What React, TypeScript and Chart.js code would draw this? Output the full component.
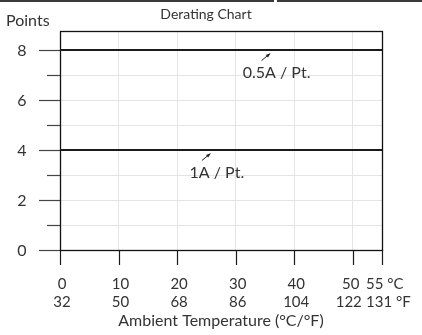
import React, { useEffect, useRef } from "react";
import { Chart, registerables } from "chart.js";

Chart.register(...registerables);

// ---- data ----
const celsiusTicks = [0, 10, 20, 30, 40, 50, 55];
const fahrenheitTicks = [32, 50, 68, 86, 104, 122, 131];
const tempMin = 0;
const tempMax = 55;
const pointsMin = 0;
const pointsMax = 8.76;
const yTickValues = [0, 1, 2, 3, 4, 5, 6, 7, 8];
const yLabelValues = [0, 2, 4, 6, 8];
const seriesNames = ["0.5A / Pt.", "1A / Pt."];
const seriesX = [0, 55];
const series05A = [8, 8];
const series1A = [4, 4];
const labelCenterX = [37.0, 26.8];
const titleText = "Derating Chart";
const yAxisTitle = "Points";
const xAxisTitle = "Ambient Temperature (°C/°F)";
const unitC = "°C";
const unitF = "°F";

const FONT = "Lato, 'Open Sans', sans-serif";
const TEXT = "#333333";
const LINE = "#1a1a1a";

const decorPlugin = {
  id: "decor",
  beforeDatasetsDraw(chart: any) {
    const { ctx, chartArea: a } = chart;
    ctx.save();
    ctx.strokeStyle = "#111";
    ctx.lineWidth = 1.3;
    const l = Math.round(a.left) + 0.5;
    const t = Math.round(a.top) + 0.5;
    const r = Math.round(a.right) + 0.5;
    const b = Math.round(a.bottom) + 0.5;
    ctx.strokeRect(l, t, r - l, b - t);
    ctx.restore();
  },
  afterDraw(chart: any) {
    const { ctx, chartArea: a, scales } = chart;
    const xs = scales.x;
    const ys = scales.y;
    ctx.save();
    // top frame line of the source image
    ctx.fillStyle = "#3a3a3a";
    ctx.fillRect(0, 0, 274, 2);
    ctx.fillRect(277, 0, 422 - 277, 2);

    // y tick marks: long at labelled values, short in between
    ctx.strokeStyle = "#444";
    ctx.lineWidth = 1.2;
    yTickValues.forEach((v) => {
      const y = Math.round(ys.getPixelForValue(v)) + 0.5;
      const long = yLabelValues.includes(v);
      ctx.beginPath();
      ctx.moveTo(a.left - (long ? 21 : 13), y);
      ctx.lineTo(a.left, y);
      ctx.stroke();
    });
    // y labels
    ctx.fillStyle = TEXT;
    ctx.font = `16px ${FONT}`;
    ctx.textAlign = "center";
    ctx.textBaseline = "middle";
    yLabelValues.forEach((v) => {
      ctx.fillText(String(v), a.left - 38, ys.getPixelForValue(v) + 1);
    });
    // x tick marks
    ctx.strokeStyle = LINE;
    celsiusTicks.forEach((v) => {
      const x = Math.round(xs.getPixelForValue(v)) + 0.5;
      ctx.beginPath();
      ctx.moveTo(x, a.bottom);
      ctx.lineTo(x, a.bottom + 15);
      ctx.stroke();
    });
    // x labels (°C row and °F row)
    ctx.font = `15px ${FONT}`;
    celsiusTicks.forEach((v, i) => {
      const x = xs.getPixelForValue(v);
      const last = i === celsiusTicks.length - 1;
      if (last) {
        ctx.textAlign = "left";
        ctx.fillText(`${v} ${unitC}`, x - 16, a.bottom + 34);
        ctx.fillText(`${fahrenheitTicks[i]} ${unitF}`, x - 16, a.bottom + 52);
      } else {
        ctx.textAlign = "center";
        const nextToLast = i === celsiusTicks.length - 2;
        const dx = nextToLast ? -2 : 2;
        ctx.fillText(String(v), x + dx, a.bottom + 34);
        ctx.fillText(String(fahrenheitTicks[i]), x + dx - (nextToLast ? 2 : 0), a.bottom + 52);
      }
    });
    ctx.font = `16px ${FONT}`;
    ctx.textAlign = "center";
    ctx.fillText(xAxisTitle, (a.left + a.right) / 2, a.bottom + 71);
    // y title
    ctx.textAlign = "left";
    ctx.fillText(yAxisTitle, 6, 21);
    // chart title
    ctx.font = `14px ${FONT}`;
    ctx.textAlign = "center";
    ctx.fillText(titleText, 206, 14);

    // series annotations with small arrows
    const ySeries = [series05A[0], series1A[0]];
    ctx.font = `16px ${FONT}`;
    seriesNames.forEach((name, i) => {
      const cx = xs.getPixelForValue(labelCenterX[i]);
      const cy = ys.getPixelForValue(ySeries[i]) + 22.5;
      ctx.fillStyle = TEXT;
      ctx.textAlign = "center";
      ctx.textBaseline = "middle";
      ctx.fillText(name, cx, cy);
      const x0 = cx - 15, y0 = cy - 12;
      const x1 = cx - 7, y1 = cy - 18.5;
      ctx.strokeStyle = "#222";
      ctx.lineWidth = 1;
      ctx.beginPath();
      ctx.moveTo(x0, y0);
      ctx.lineTo(x1, y1);
      ctx.stroke();
      const ang = Math.atan2(y1 - y0, x1 - x0);
      ctx.fillStyle = "#222";
      ctx.beginPath();
      ctx.moveTo(x1 + 1, y1 - 0.8);
      ctx.lineTo(x1 - 4 * Math.cos(ang - 0.45), y1 - 4 * Math.sin(ang - 0.45));
      ctx.lineTo(x1 - 4 * Math.cos(ang + 0.45), y1 - 4 * Math.sin(ang + 0.45));
      ctx.closePath();
      ctx.fill();
    });
    ctx.restore();
  },
};

export default function App() {
  const ref = useRef<HTMLCanvasElement>(null);
  useEffect(() => {
    if (!ref.current) return;
    const chart = new Chart(ref.current, {
      type: "line",
      data: {
        datasets: [
          {
            label: seriesNames[0],
            data: seriesX.map((x, i) => ({ x, y: series05A[i] })),
            borderColor: LINE,
            borderWidth: 2.2,
            pointRadius: 0,
            clip: false as any,
          },
          {
            label: seriesNames[1],
            data: seriesX.map((x, i) => ({ x, y: series1A[i] })),
            borderColor: LINE,
            borderWidth: 2.2,
            pointRadius: 0,
            clip: false as any,
          },
        ],
      },
      options: {
        animation: false,
        responsive: true,
        maintainAspectRatio: false,
        layout: { padding: { left: 60, top: 31, right: 40, bottom: 85 } },
        plugins: { legend: { display: false }, tooltip: { enabled: false }, title: { display: false } },
        scales: {
          x: {
            type: "linear",
            min: tempMin,
            max: tempMax,
            afterBuildTicks: (s: any) => {
              s.ticks = celsiusTicks.map((v) => ({ value: v }));
            },
            ticks: { display: false },
            grid: { color: "#e4e4e4", lineWidth: 1, drawTicks: false },
            border: { display: false },
          },
          y: {
            type: "linear",
            min: pointsMin,
            max: pointsMax,
            afterBuildTicks: (s: any) => {
              s.ticks = yTickValues.map((v) => ({ value: v }));
            },
            ticks: { display: false },
            grid: { color: "#e4e4e4", lineWidth: 1, drawTicks: false },
            border: { display: false },
          },
        },
      },
      plugins: [decorPlugin],
    });
    return () => chart.destroy();
  }, []);
  return (
    <div style={{ position: "fixed", left: 0, top: 0, width: 422, height: 335, background: "#fff" }}>
      <canvas ref={ref} />
    </div>
  );
}
